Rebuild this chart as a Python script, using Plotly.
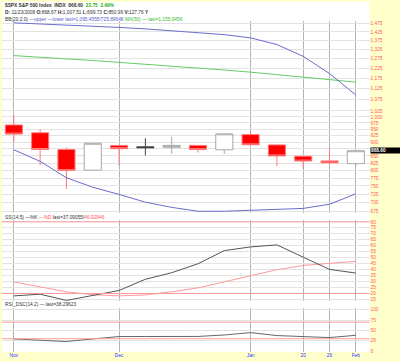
import math
import plotly.graph_objects as go

# ---------------- data ----------------
weeks = ["2008-11-03", "2008-11-10", "2008-11-17", "2008-11-24", "2008-12-01",
         "2008-12-08", "2008-12-15", "2008-12-22", "2008-12-29", "2009-01-05",
         "2009-01-12", "2009-01-20", "2009-01-26", "2009-02-02"]
opens  = [967, 936, 873, 801, 888, 882.7, 881, 888, 872, 929, 890, 849, 832.5, 823]
highs  = [1007.5, 950, 880, 897, 889, 915, 920, 889, 935, 943.5, 891, 850, 878, 869]
lows   = [899, 818, 741, 799, 817, 852, 858, 862, 857, 890, 815, 805, 822, 814]
closes = [931, 873, 800, 896.2, 876, 879.7, 888, 872.8, 931.8, 890.4, 850, 832, 825.9, 868.6]
candle_style = ["red", "red", "red", "grey", "red", "black", "grey", "red", "grey",
                "red", "red", "red", "red", "grey"]

bb_upper = [1480, 1474, 1467, 1460, 1452, 1443, 1433, 1422, 1409, 1390, 1352, 1287, 1198, 1095.5]
bb_lower = [872, 831, 776, 746, 724, 701, 686, 675, 675, 678, 681, 683, 695, 725.9]
ma50 = [1291, 1283, 1274, 1265, 1255, 1246, 1236, 1226, 1216, 1205, 1193, 1181, 1169, 1156]

stoch_k = [18, 19.4, 14.2, 18.6, 22.5, 31.9, 37.4, 44.9, 55.9, 59, 60.7, 50.4, 40.2, 37.1]
stoch_d = [29.7, 25.5, 21.4, 19, 18, 18.8, 21.4, 24.7, 29.7, 34.7, 39.9, 43.5, 45.5, 46.9]
rsi = [29.5, 27.1, 23.2, 29.5, 35.2, 35.4, 35.2, 35.5, 39.0, 44.8, 37.6, 34.4, 32.8, 38.3]

x_tick_weeks = ["2008-11-03", "2008-12-01", "2009-01-05", "2009-01-20", "2009-01-26", "2009-02-02"]
x_tick_labels = ["Nov", "Dec", "Jan", "20", "26", "Feb"]
price_ticks = [1475, 1425, 1375, 1325, 1275, 1225, 1175, 1125, 1075, 1025,
               1000, 975, 950, 925, 900, 875, 850, 825, 800, 775, 750, 725, 700, 675]
price_tick_labels = ["1,475", "1,425", "1,375", "1,325", "1,275", "1,225", "1,175", "1,125",
                     "1,075", "1,025", "1,000", "975", "950", "925", "900", "", "850", "825",
                     "800", "775", "750", "725", "700", "675"]
stoch_ticks = [80, 75, 70, 65, 60, 55, 50, 45, 40, 35, 30, 25, 20, 15]
rsi_ticks = [0, 25, 50, 75, 100]
stoch_levels = [80, 20]
rsi_levels = [70, 30]

# ---------------- helpers ----------------
W, H = 400, 362
def py(px):
    return 1 - px / H

X0, X1 = 2 / W, 369.5 / W
FONT = "Liberation Sans"
FS = 4.8
AX_RED = "#ff5a5a"

fig = go.Figure()

# lines on price panel
fig.add_trace(go.Scatter(x=weeks, y=ma50, mode="lines", line=dict(color="#66cc66", width=1),
                         xaxis="x", yaxis="y", hoverinfo="skip"))
fig.add_trace(go.Scatter(x=weeks, y=bb_upper, mode="lines", line=dict(color="#6b6bcc", width=1),
                         xaxis="x", yaxis="y", hoverinfo="skip"))
fig.add_trace(go.Scatter(x=weeks, y=bb_lower, mode="lines", line=dict(color="#6b6bcc", width=1),
                         xaxis="x", yaxis="y", hoverinfo="skip"))

styles = {
    "red": dict(line="#ff7a7a", fill="#ff0000"),
    "grey": dict(line="#a8a8a8", fill="#ffffff"),
    "black": dict(line="#444444", fill="#000000"),
}
for name, st in styles.items():
    idx = [i for i, s in enumerate(candle_style) if s == name]
    fig.add_trace(go.Candlestick(
        x=[weeks[i] for i in idx],
        open=[opens[i] for i in idx], high=[highs[i] for i in idx],
        low=[lows[i] for i in idx], close=[closes[i] for i in idx],
        increasing=dict(line=dict(color=st["line"], width=1), fillcolor=st["fill"]),
        decreasing=dict(line=dict(color=st["line"], width=1), fillcolor=st["fill"]),
        whiskerwidth=0, xaxis="x", yaxis="y", hoverinfo="skip"))

# stochastics
fig.add_trace(go.Scatter(x=weeks, y=stoch_d, mode="lines", line=dict(color="#ff9a9a", width=1),
                         xaxis="x2", yaxis="y2", hoverinfo="skip"))
fig.add_trace(go.Scatter(x=weeks, y=stoch_k, mode="lines", line=dict(color="#555555", width=1),
                         xaxis="x2", yaxis="y2", hoverinfo="skip"))
# RSI
fig.add_trace(go.Scatter(x=weeks, y=rsi, mode="lines", line=dict(color="#666666", width=1),
                         xaxis="x3", yaxis="y3", hoverinfo="skip"))

xcommon = dict(type="category", categoryorder="array", categoryarray=weeks,
               range=[-0.45, 13.52], domain=[X0, X1], tickvals=x_tick_weeks,
               ticktext=x_tick_labels, showgrid=True, gridcolor="#b4b4b4", gridwidth=1,
               zeroline=False, showline=False, ticks="", fixedrange=True)
ycommon = dict(side="right", showgrid=True, gridcolor="#e2e2e2", gridwidth=1, zeroline=False,
               showline=False, ticks="", tickfont=dict(family=FONT, size=FS, color=AX_RED),
               fixedrange=True)

lo_p = 675 * math.exp(-2 / 242)
hi_p = 675 * math.exp(191.5 / 242)

fig.update_layout(
    width=W, height=H, margin=dict(l=0, r=0, t=0, b=0),
    paper_bgcolor="#ffffcc", plot_bgcolor="#ffffff", showlegend=False,
    boxgap=0.35, boxgroupgap=0,
    xaxis=dict(**xcommon, anchor="y", showticklabels=False, rangeslider=dict(visible=False)),
    xaxis2=dict(**xcommon, anchor="y2", showticklabels=False),
    xaxis3=dict(**xcommon, anchor="y3", showticklabels=True,
                tickfont=dict(family=FONT, size=FS, color="#3030ff")),
    yaxis=dict(**ycommon, type="log", anchor="x", domain=[py(214), py(20.5)],
               range=[math.log10(lo_p), math.log10(hi_p)],
               tickvals=price_ticks, ticktext=price_tick_labels),
    yaxis2=dict(**ycommon, anchor="x2", domain=[py(303), py(221)], range=[13.3, 81.4],
                tickvals=stoch_ticks),
    yaxis3=dict(**ycommon, anchor="x3", domain=[py(353.5), py(309.5)], range=[-1, 104.3],
                tickvals=rsi_ticks),
)

shapes = [dict(type="rect", xref="paper", yref="paper", x0=X0, x1=X1, y0=py(353.5), y1=py(1),
               fillcolor="#ffffff", line=dict(width=0), layer="below")]
for lv in stoch_levels:
    shapes.append(dict(type="line", xref="x2 domain", yref="y2", x0=0, x1=1, y0=lv, y1=lv,
                       line=dict(color="#ff9a9a", width=1)))
for lv in rsi_levels:
    shapes.append(dict(type="line", xref="x3 domain", yref="y3", x0=0, x1=1, y0=lv, y1=lv,
                       line=dict(color="#ff9a9a", width=1)))
fig.update_layout(shapes=shapes)

def txt(y, html):
    return dict(xref="paper", yref="paper", x=3 / W, y=py(y), xanchor="left", yanchor="middle",
                text=html, showarrow=False, font=dict(family=FONT, size=FS, color="#333333"))

annotations = [
    txt(4.5, "<b>$SPX S&amp;P 500 Index  INDX  868.60</b>  <span style='color:#22aa22'><b>22.75  2.69%</b></span>"),
    txt(12, "<b>D:</b> 11/23/2008 <b>O:</b>868.67 <b>H:</b>1,007.51 <b>L:</b>699.73 <b>C:</b>850.99 <b>V:</b>127.76 <b>Y</b>"),
    txt(18.5, "BB(20,2.0) <span style='color:#5a5acc'>\u2014upper \u2014lower last=1,095.4555/725.89648</span> "
              "<span style='color:#33bb33'>MA(50) \u2014 last=1,155.6456</span>"),
    txt(218.5, "SS(14,5) \u2014%K <span style='color:#ff5555'>\u2014%D</span> last=37.09055/"
               "<span style='color:#ff5555'>46.92946</span>"),
    txt(306.5, "RSI_DSC(14,2) \u2014 last=38.29623"),
    dict(xref="paper", yref="y", x=370 / W, y=math.log10(closes[-1]), xanchor="left",
         yanchor="middle", text=f"<b>{closes[-1]:.2f}</b>", showarrow=False, width=30,
         align="left", bgcolor="#000000", borderpad=0,
         font=dict(family=FONT, size=FS, color="#ffffff")),
]
fig.update_layout(annotations=annotations)

fig.write_html("out.html", config={"displayModeBar": False})
